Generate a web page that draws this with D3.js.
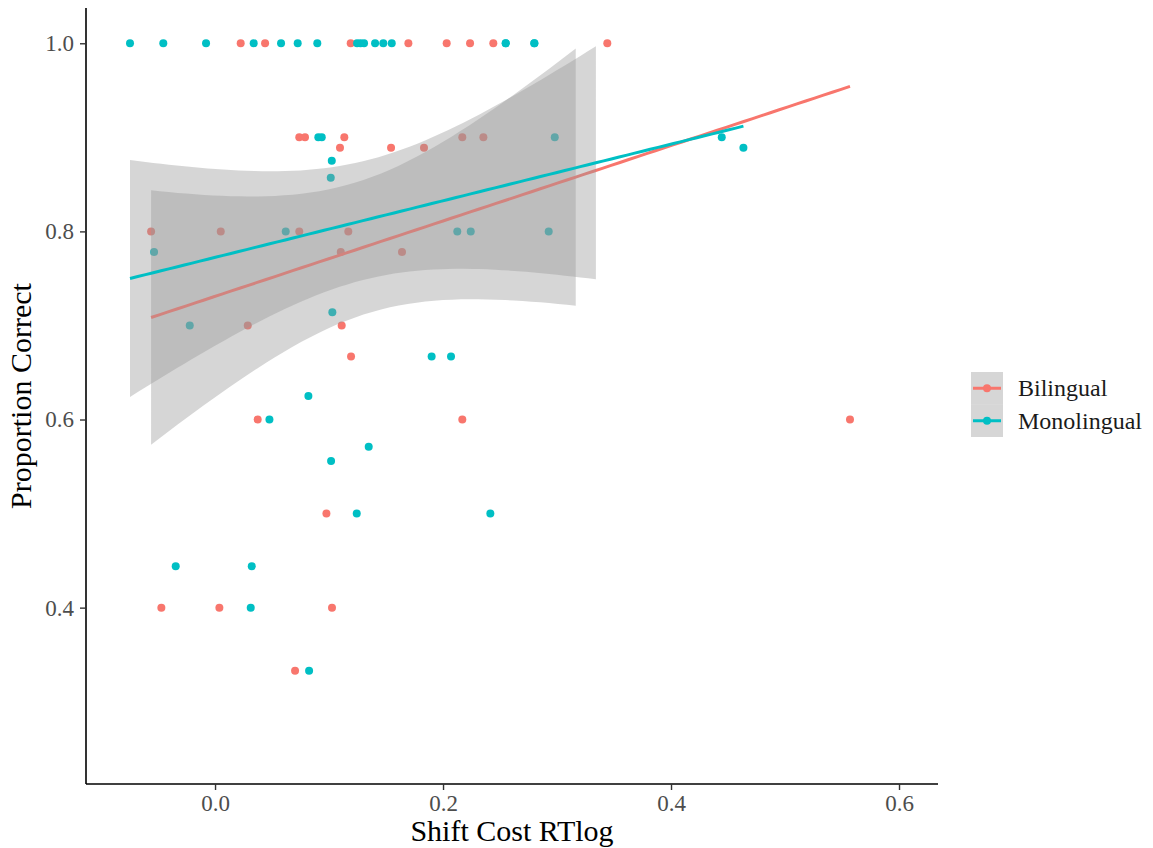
<!DOCTYPE html>
<html>
<head>
<meta charset="utf-8">
<script src="https://cdn.jsdelivr.net/npm/d3@7"></script>
<style>
  html, body { margin: 0; padding: 0; background: #ffffff; }
  svg { display: block; }
  text { font-family: "Liberation Serif", "Times New Roman", serif; }
</style>
</head>
<body>
<svg id="chart" width="1153" height="848"></svg>
<script>
// ---- data ----
const groups = ["Bilingual", "Monolingual"];
const groupColors = ["#F8766D", "#00BFC4"];

const bilX = [0.0225, 0.0439, 0.119, 0.1696, 0.2032, 0.2237, 0.2441, 0.3441,
  0.0739, 0.0789, 0.1134, 0.2169, 0.2354,
  0.1096, 0.1544, 0.1833,
  -0.0561, 0.005, 0.0739, 0.1169,
  0.1103, 0.164,
  0.0287, 0.1111,
  0.1193,
  0.0374, 0.2169, 0.557,
  0.0977,
  -0.0471, 0.0038, 0.1026,
  0.0702];
const bilY = [1, 1, 1, 1, 1, 1, 1, 1,
  0.9, 0.9, 0.9, 0.9, 0.9,
  0.889, 0.889, 0.889,
  0.8, 0.8, 0.8, 0.8,
  0.778, 0.778,
  0.7, 0.7,
  0.667,
  0.6, 0.6, 0.6,
  0.5,
  0.4, 0.4, 0.4,
  0.333];

// the last two entries sit exactly under visible points (overlapping), estimated from the fitted line
const monoX = [-0.0746, -0.0454, -0.0079, 0.0339, 0.0579, 0.0725, 0.0897, 0.1246, 0.1276, 0.1307, 0.1404, 0.1476, 0.155, 0.255, 0.2801,
  0.0906, 0.0936, 0.298, 0.4445,
  0.4635,
  0.1024,
  0.1015,
  0.062, 0.2125, 0.2243, 0.2927,
  -0.0535,
  0.1029,
  -0.0222,
  0.19, 0.207,
  0.0819,
  0.0477,
  0.1348,
  0.1018,
  0.1243, 0.2415,
  -0.0345, 0.0322,
  0.0313,
  0.0825,
  0.255, 0.2801];
const monoY = [1, 1, 1, 1, 1, 1, 1, 1, 1, 1, 1, 1, 1, 1, 1,
  0.9, 0.9, 0.9, 0.9,
  0.889,
  0.875,
  0.857,
  0.8, 0.8, 0.8, 0.8,
  0.778,
  0.714,
  0.7,
  0.667, 0.667,
  0.625,
  0.6,
  0.571,
  0.556,
  0.5, 0.5,
  0.444, 0.444,
  0.4,
  0.333,
  1, 1];

const xTicks = [0.0, 0.2, 0.4, 0.6];
const yTicks = [0.4, 0.6, 0.8, 1.0];
const xDomain = [-0.1132, 0.6342];
const yLimits = [0.25, 1.0];   // ylim() used in the original; ribbon parts beyond are dropped
const xTitle = "Shift Cost RTlog";
const yTitle = "Proportion Correct";

// ---- layout ----
const svg = d3.select("#chart");
const panel = { left: 86, right: 938, top: 8, bottom: 784 };
const yExpand = (yLimits[1] - yLimits[0]) * 0.05;

const x = d3.scaleLinear().domain(xDomain).range([panel.left, panel.right]);
const y = d3.scaleLinear().domain([yLimits[0] - yExpand, yLimits[1] + yExpand]).range([panel.bottom, panel.top]);

const series = [
  { name: groups[0], color: groupColors[0], xs: bilX, ys: bilY },
  { name: groups[1], color: groupColors[1], xs: monoX, ys: monoY }
];

// t quantile (0.975) via Cornish-Fisher expansion
function tQuantile975(df) {
  const z = 1.959964;
  const z3 = z * z * z, z5 = z3 * z * z, z7 = z5 * z * z;
  return z + (z3 + z) / (4 * df) + (5 * z5 + 16 * z3 + 3 * z) / (96 * df * df)
    + (3 * z7 + 19 * z5 + 17 * z3 - 15 * z) / (384 * df * df * df);
}

function lmFit(xs, ys) {
  const n = xs.length;
  const mx = d3.mean(xs), my = d3.mean(ys);
  let sxx = 0, sxy = 0;
  for (let i = 0; i < n; i++) { sxx += (xs[i] - mx) ** 2; sxy += (xs[i] - mx) * (ys[i] - my); }
  const b = sxy / sxx, a = my - b * mx;
  let sse = 0;
  for (let i = 0; i < n; i++) sse += (ys[i] - (a + b * xs[i])) ** 2;
  const s = Math.sqrt(sse / (n - 2));
  const t = tQuantile975(n - 2);
  const [x0, x1] = d3.extent(xs);
  return d3.range(80).map(i => {
    const xv = x0 + (x1 - x0) * i / 79;
    const fit = a + b * xv;
    const se = s * Math.sqrt(1 / n + (xv - mx) ** 2 / sxx);
    return { x: xv, y: fit, lo: fit - t * se, hi: fit + t * se };
  });
}

// ---- points ----
const gPts = svg.append("g");
series.forEach(sr => {
  gPts.selectAll(null)
    .data(sr.xs.map((v, i) => ({ x: v, y: sr.ys[i] })))
    .enter().append("circle")
    .attr("cx", d => x(d.x))
    .attr("cy", d => y(d.y))
    .attr("r", 4)
    .attr("fill", sr.color);
});

// ---- smooths (ribbon + line, per group) ----
const gSm = svg.append("g");
series.forEach(sr => {
  const pts = lmFit(sr.xs, sr.ys);
  const area = d3.area()
    .defined(d => d.hi <= yLimits[1] && d.lo >= yLimits[0])
    .x(d => x(d.x)).y0(d => y(d.lo)).y1(d => y(d.hi));
  gSm.append("path").datum(pts)
    .attr("d", area)
    .attr("fill", "#999999").attr("fill-opacity", 0.4);
  const line = d3.line().x(d => x(d.x)).y(d => y(d.y));
  gSm.append("path").datum(pts)
    .attr("d", line)
    .attr("fill", "none").attr("stroke", sr.color).attr("stroke-width", 3);
});

// ---- axes ----
const xAxis = d3.axisBottom(x).tickValues(xTicks).tickFormat(d3.format(".1f")).tickSize(6).tickSizeOuter(0).tickPadding(5);
const yAxis = d3.axisLeft(y).tickValues(yTicks).tickFormat(d3.format(".1f")).tickSize(6).tickSizeOuter(0).tickPadding(6);

const gx = svg.append("g").attr("transform", `translate(0,${panel.bottom})`).call(xAxis);
const gy = svg.append("g").attr("transform", `translate(${panel.left},0)`).call(yAxis);
[gx, gy].forEach(g => {
  g.select(".domain").attr("stroke", "#000").attr("stroke-width", 1.6);
  g.selectAll(".tick line").attr("stroke", "#333").attr("stroke-width", 1.4);
  g.selectAll(".tick text").attr("fill", "#4D4D4D").style("font-size", "23px")
    .style("font-family", '"Liberation Serif", "Times New Roman", serif');
});
gx.select(".domain").attr("d", `M${panel.left},0H${panel.right}`);
gy.select(".domain").attr("d", `M0,${panel.top}V${panel.bottom}`);

// titles
svg.append("text")
  .attr("x", (panel.left + panel.right) / 2).attr("y", 841)
  .attr("text-anchor", "middle").style("font-size", "30px").attr("fill", "#000")
  .text(xTitle);
svg.append("text")
  .attr("transform", `translate(31,${(panel.top + panel.bottom) / 2}) rotate(-90)`)
  .attr("text-anchor", "middle").style("font-size", "30px").attr("fill", "#000")
  .text(yTitle);

// ---- legend ----
const lg = svg.append("g").attr("transform", "translate(971,372)");
const keyH = 32.5, keyW = 32;
series.forEach((sr, i) => {
  const k = lg.append("g").attr("transform", `translate(0,${i * keyH})`);
  k.append("rect").attr("width", keyW).attr("height", keyH)
    .attr("fill", "#999999").attr("fill-opacity", 0.4);
  k.append("line").attr("x1", 2).attr("x2", keyW - 2)
    .attr("y1", keyH / 2).attr("y2", keyH / 2)
    .attr("stroke", sr.color).attr("stroke-width", 3);
  k.append("circle").attr("cx", keyW / 2).attr("cy", keyH / 2).attr("r", 4).attr("fill", sr.color);
  k.append("text").attr("x", 47).attr("y", keyH / 2 + 8)
    .style("font-size", "24px").attr("fill", "#1a1a1a").text(sr.name);
});
</script>
</body>
</html>
